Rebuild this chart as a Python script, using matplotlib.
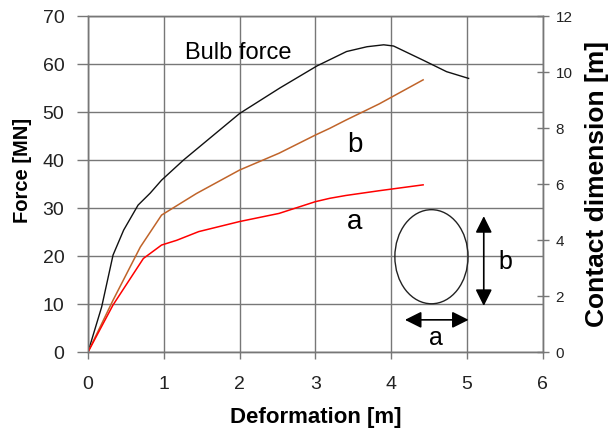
import matplotlib
matplotlib.use("Agg")
import matplotlib.pyplot as plt
from matplotlib.patches import Ellipse

plt.rcParams['font.family'] = ['Liberation Sans', 'DejaVu Sans']

# bulb force [MN] vs deformation [m]
bulb_x = [0, 0.18, 0.33, 0.47, 0.66, 0.82, 0.97, 1.26, 2.0, 2.53, 3.02, 3.41, 3.68, 3.90, 4.03, 4.42, 4.73, 5.02]
bulb_f = [0, 9.4, 20.2, 25.4, 30.6, 33.1, 35.8, 40.0, 49.7, 55.0, 59.6, 62.6, 63.6, 64.0, 63.75, 60.8, 58.4, 57.0]

# contact dimensions [m] vs deformation [m]
b_x = [0, 0.33, 0.69, 0.97, 1.43, 2.0, 2.52, 3.0, 3.19, 3.4, 3.84, 4.42]
b_dim = [0, 1.85, 3.75, 4.89, 5.66, 6.50, 7.10, 7.75, 7.99, 8.28, 8.86, 9.72]
a_x = [0, 0.33, 0.73, 0.97, 1.17, 1.46, 2.0, 2.52, 3.0, 3.19, 3.4, 3.84, 4.42]
a_dim = [0, 1.68, 3.34, 3.82, 3.99, 4.30, 4.66, 4.95, 5.37, 5.49, 5.59, 5.76, 5.97]

x_ticks = [0, 1, 2, 3, 4, 5, 6]
f_ticks = [0, 10, 20, 30, 40, 50, 60, 70]
d_ticks = [0, 2, 4, 6, 8, 10, 12]

grid_c = '#777777'

fig = plt.figure(figsize=(6.10, 4.41), dpi=100)
ax = fig.add_axes([0.1443, 0.2018, 0.7457, 0.7619])
ax2 = ax.twinx()

ax.set_xlim(0, 6)
ax.set_ylim(0, 70)
ax2.set_ylim(0, 12)
ax.set_xticks(x_ticks)
ax.set_yticks(f_ticks)
ax2.set_yticks(d_ticks)
ax.grid(True, color=grid_c, linewidth=1.0)
for a_ in (ax, ax2):
    for s in a_.spines.values():
        s.set_color(grid_c)
        s.set_linewidth(1.0)

ax.tick_params(axis='x', direction='out', length=5, width=1, color=grid_c, pad=12, labelsize=14, labelcolor='#222222')
ax.tick_params(axis='y', direction='out', length=8, width=1, color=grid_c, pad=9, labelsize=14, labelcolor='#222222')
ax2.tick_params(axis='y', direction='inout', length=8, width=1, color=grid_c, pad=5, labelsize=11, labelcolor='#222222')

ax.set_xlabel('Deformation [m]', fontsize=16, fontweight='bold', labelpad=10)
ax.set_ylabel('Force [MN]', fontsize=14.5, fontweight='bold')
ax.yaxis.set_label_coords(-0.123, 0.54)
ax2.set_ylabel('Contact dimension [m]', fontsize=19, fontweight='bold', labelpad=9)

ax.plot(bulb_x, bulb_f, color='#111111', linewidth=1.0)
ax2.plot(b_x, b_dim, color='#c0642a', linewidth=1.1)
ax2.plot(a_x, a_dim, color='#ff0000', linewidth=1.1)

ax.text(1.28, 62.3, 'Bulb force', fontsize=17, va='center', ha='left')
ax.text(3.52, 43.1, 'b', fontsize=20, va='center', ha='center')
ax.text(3.52, 27.1, 'a', fontsize=20, va='center', ha='center')

# inset sketch of the contact area
ell = Ellipse((4.53, 19.85), 0.965, 19.6, fill=False, edgecolor='#222222', linewidth=1.0, zorder=5)
ax.add_patch(ell)
arrow = dict(arrowstyle='<|-|>,head_length=1.0,head_width=0.5', color='black', linewidth=1.2, shrinkA=0, shrinkB=0)
ax.annotate('', xy=(5.22, 28.3), xytext=(5.22, 9.6), arrowprops=arrow, zorder=5)
ax.annotate('', xy=(4.18, 6.7), xytext=(5.02, 6.7), arrowprops=arrow, zorder=5)
ax.text(5.5, 18.8, 'b', fontsize=18, va='center', ha='center')
ax.text(4.59, 2.9, 'a', fontsize=18, va='center', ha='center')

fig.savefig('out.png', dpi=100)
